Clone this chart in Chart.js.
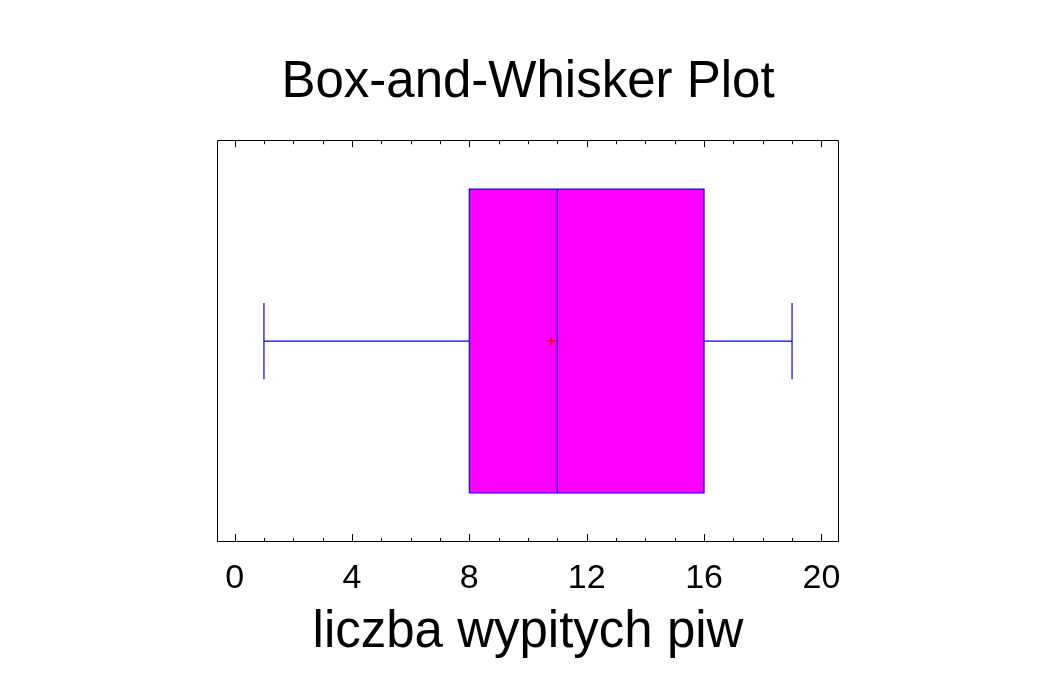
<!DOCTYPE html>
<html>
<head>
<meta charset="utf-8">
<script src="https://cdn.jsdelivr.net/npm/chart.js@4"></script>
<style>
  html, body { margin: 0; padding: 0; background: #ffffff; }
  #wrap { width: 1057px; height: 694px; }
</style>
</head>
<body>
<div id="wrap"><canvas id="c" width="1057" height="694"></canvas></div>
<script>
// ---- data ----
const whiskerLow = [1];
const q1 = [8];
const median = [11];
const q3 = [16];
const whiskerHigh = [19];
const mean = [10.8];
const xTickLabels = [0, 4, 8, 12, 16, 20];
const xMinorTicks = [0,1,2,3,4,5,6,7,8,9,10,11,12,13,14,15,16,17,18,19,20];

const BOX_FRAC = 0.756;   // box height as share of the plot height
const CAP_FRAC = 0.19;    // whisker cap height share
const FONT = '"Liberation Sans", Arial, Helvetica, sans-serif';
const BLUE = '#0000ff', MAGENTA = '#ff00ff', RED = '#ff0000';

const boxTop = 0.5 + BOX_FRAC / 2, boxBottom = 0.5 - BOX_FRAC / 2;
const capTop = 0.5 + CAP_FRAC / 2, capBottom = 0.5 - CAP_FRAC / 2;

const lineDs = (data, color, order) => ({
  type: 'line', data, borderColor: color, borderWidth: 1.2, pointRadius: 0,
  fill: false, tension: 0, order: order
});

const framePlugin = {
  id: 'frame',
  afterDatasetsDraw(chart) {
    const { ctx, chartArea: a, scales } = chart;
    ctx.save();
    ctx.strokeStyle = '#000';
    ctx.lineWidth = 1;
    ctx.beginPath();
    ctx.rect(Math.round(a.left) + 0.5, Math.round(a.top) + 0.5,
             Math.round(a.right - a.left) - 1, Math.round(a.bottom - a.top) - 1);
    ctx.stroke();
    ctx.beginPath();
    xMinorTicks.forEach(v => {
      const px = Math.round(scales.x.getPixelForValue(v)) + 0.5;
      const major = xTickLabels.includes(v);
      const lb = major ? 8 : 4, lt = major ? 7 : 4;
      ctx.moveTo(px, a.bottom); ctx.lineTo(px, a.bottom - lb);
      ctx.moveTo(px, a.top); ctx.lineTo(px, a.top + lt);
    });
    ctx.stroke();
    ctx.restore();
  }
};

new Chart(document.getElementById('c'), {
  type: 'line',
  data: {
    datasets: [
      // box body (filled between top edge and box bottom)
      {
        type: 'line', data: [{x: q1[0], y: boxTop}, {x: q3[0], y: boxTop}],
        borderColor: 'rgba(0,0,0,0)', borderWidth: 0, pointRadius: 0,
        backgroundColor: MAGENTA, fill: { value: boxBottom }, order: 5
      },
      // box outline
      lineDs([{x: q1[0], y: boxBottom}, {x: q3[0], y: boxBottom}, {x: q3[0], y: boxTop},
              {x: q1[0], y: boxTop}, {x: q1[0], y: boxBottom}], BLUE, 4),
      // whiskers
      lineDs([{x: whiskerLow[0], y: 0.5}, {x: q1[0], y: 0.5}], BLUE, 3),
      lineDs([{x: q3[0], y: 0.5}, {x: whiskerHigh[0], y: 0.5}], BLUE, 3),
      lineDs([{x: whiskerLow[0], y: capBottom}, {x: whiskerLow[0], y: capTop}], BLUE, 3),
      lineDs([{x: whiskerHigh[0], y: capBottom}, {x: whiskerHigh[0], y: capTop}], BLUE, 3),
      // median
      lineDs([{x: median[0], y: boxBottom}, {x: median[0], y: boxTop}], BLUE, 2),
      // mean
      {
        type: 'scatter', data: [{x: mean[0], y: 0.5}],
        pointStyle: 'cross', pointRadius: 4, borderColor: RED,
        backgroundColor: RED, borderWidth: 1.5, order: 0
      }
    ]
  },
  options: {
    responsive: false,
    animation: false,
    layout: { padding: { left: 217, right: 218, top: 0, bottom: 30 } },
    plugins: {
      legend: { display: false },
      tooltip: { enabled: false },
      title: {
        display: true, text: 'Box-and-Whisker Plot', color: '#000',
        font: { family: FONT, size: 51, weight: 'normal' },
        padding: { top: 52, bottom: 27 }
      }
    },
    scales: {
      x: {
        type: 'linear', position: 'bottom', min: -0.6, max: 20.6,
        afterBuildTicks: s => { s.ticks = xTickLabels.map(v => ({ value: v })); },
        grid: { display: false, drawTicks: false },
        border: { display: false },
        ticks: { color: '#000', padding: 16, font: { family: FONT, size: 34 }, maxRotation: 0 },
        title: {
          display: true, text: 'liczba wypitych piw', color: '#000',
          font: { family: FONT, size: 51 }, padding: { top: -12, bottom: 0 }
        }
      },
      y: { type: 'linear', min: 0, max: 1, display: false }
    }
  },
  plugins: [framePlugin]
});
</script>
</body>
</html>
